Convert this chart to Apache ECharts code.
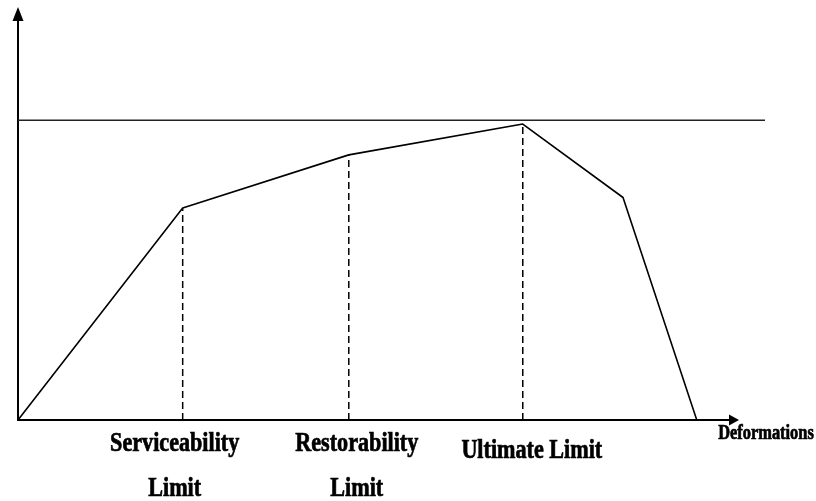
<!DOCTYPE html>
<html>
<head>
<meta charset="utf-8">
<script src="https://cdn.jsdelivr.net/npm/echarts@6/dist/echarts.min.js"></script>
<style>html,body{margin:0;padding:0;background:#fff;}#c{width:816px;height:501px;}</style>
</head>
<body>
<div id="c"></div>
<script>
// Curve (deformation, load) in arbitrary units
const curveX = [0, 23.0, 46.2, 70.5, 84.5, 94.8];
const curveY = [0, 52.2, 65.3, 72.9, 54.8, 0];
// Horizontal reference (capacity) line
const capacityY = 73.8;
const capacityXEnd = 104.3;
// Limit states (index of curve point marking each limit)
const limitNames = [["Serviceability", "Limit"], ["Restorability", "Limit"], ["Ultimate Limit"]];
const limitIdx = [1, 2, 3];
const xAxisTitle = "Deformations";

const chart = echarts.init(document.getElementById('c'));
const series = [];
series.push({
  type: 'line', data: curveX.map((x, i) => [x, curveY[i]]), symbol: 'none',
  lineStyle: { color: '#000', width: 1.6 }, z: 5
});
series.push({
  type: 'line', xAxisIndex: 1, yAxisIndex: 1,
  data: [[0, capacityY], [capacityXEnd, capacityY]], symbol: 'none',
  lineStyle: { color: '#222', width: 1.5 }, z: 4
});
limitIdx.forEach(i => {
  series.push({
    type: 'line', data: [[curveX[i], 0], [curveX[i], curveY[i]]], symbol: 'none',
    lineStyle: { color: '#000', width: 1.5, type: [7, 4] }, z: 3
  });
});
const axisCommon = {
  type: 'value', min: 0, max: 100,
  splitLine: { show: false }, axisTick: { show: false }, axisLabel: { show: false },
  axisLine: { show: true, onZero: false, symbol: ['none', 'triangle'], lineStyle: { color: '#000', width: 2 } }
};
const hiddenAxis = { type: 'value', min: 0, show: false, splitLine: { show: false } };
chart.setOption({
  animation: false,
  grid: [
    { left: 18, right: 82, top: 14, bottom: 81 },
    { left: 18, right: 51, top: 14, bottom: 81 }
  ],
  xAxis: [
    Object.assign({}, axisCommon, { gridIndex: 0, axisLine: Object.assign({}, axisCommon.axisLine, { symbolSize: [11, 10] }) }),
    Object.assign({}, hiddenAxis, { gridIndex: 1, max: capacityXEnd })
  ],
  yAxis: [
    Object.assign({}, axisCommon, { gridIndex: 0, axisLine: Object.assign({}, axisCommon.axisLine, { symbolSize: [11, 14] }) }),
    Object.assign({}, hiddenAxis, { gridIndex: 1, max: 100 })
  ],
  series: series
});

function txt(text, x, y, size) {
  return {
    type: 'text', x: x, y: y, scaleX: 0.82, z: 10,
    style: { text: text, fontFamily: '"Liberation Serif", "Times New Roman", serif', fontWeight: 'bold',
      fontSize: size, fill: '#000', stroke: '#000', lineWidth: 0.7, align: 'center', verticalAlign: 'middle' }
  };
}
const offsets = [-8, 8, 9];
const graphics = [];
limitIdx.forEach((idx, k) => {
  const p = chart.convertToPixel({ gridIndex: 0 }, [curveX[idx], 0]);
  const lines = limitNames[k];
  if (lines.length === 2) {
    graphics.push(txt(lines[0], p[0] + offsets[k], p[1] + 24, 27));
    graphics.push(txt(lines[1], p[0] + offsets[k], p[1] + 69, 27));
  } else {
    graphics.push(txt(lines[0], p[0] + offsets[k], p[1] + 31, 27));
  }
});
const endPx = chart.convertToPixel({ gridIndex: 0 }, [100, 0]);
graphics.push(txt(xAxisTitle, endPx[0] + 32, endPx[1] + 14, 20));
chart.setOption({ graphic: graphics });
</script>
</body>
</html>
